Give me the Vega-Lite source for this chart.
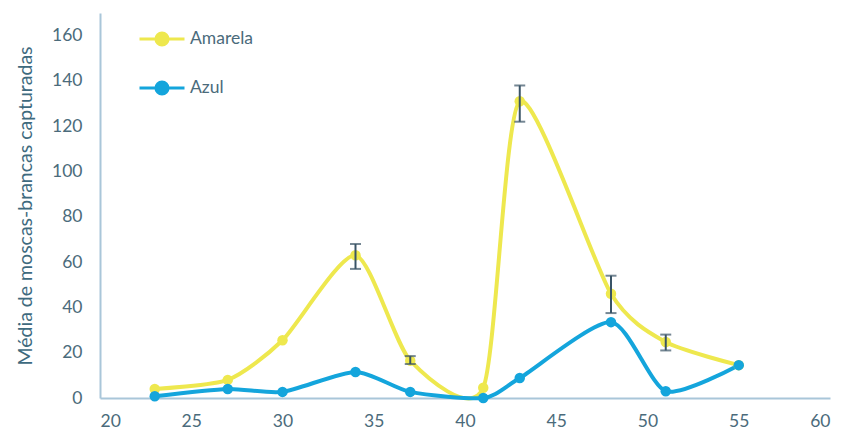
{
  "$schema": "https://vega.github.io/schema/vega-lite/v6.json",
  "autosize": "none",
  "width": 730,
  "height": 385,
  "padding": {"left": 100, "top": 13, "right": 14, "bottom": 37},
  "background": "white",
  "config": {
    "font": "Lato",
    "view": {"stroke": null},
    "axis": {"grid": false, "ticks": false, "domainColor": "#a9c6d9", "domainWidth": 2, "labelColor": "#4b6b7b", "labelFontSize": 17.5, "titleColor": "#3e6a7e", "titleFontWeight": "normal"}
  },
  "data": {
    "values": [
      {"serie": "Amarela", "x": 23, "y": 4},
      {"serie": "Amarela", "x": 27, "y": 8},
      {"serie": "Amarela", "x": 30, "y": 25.5},
      {"serie": "Amarela", "x": 34, "y": 63, "lo": 57, "hi": 68},
      {"serie": "Amarela", "x": 37, "y": 16.5, "lo": 15, "hi": 18.5},
      {"serie": "Amarela", "x": 41, "y": 4.5},
      {"serie": "Amarela", "x": 43, "y": 131, "lo": 122, "hi": 138},
      {"serie": "Amarela", "x": 48, "y": 46, "lo": 37.5, "hi": 54},
      {"serie": "Amarela", "x": 51, "y": 24.7, "lo": 21, "hi": 28},
      {"serie": "Amarela", "x": 55, "y": 14.5},
      {"serie": "Azul", "x": 23, "y": 0.8},
      {"serie": "Azul", "x": 27, "y": 4},
      {"serie": "Azul", "x": 30, "y": 2.7},
      {"serie": "Azul", "x": 34, "y": 11.5},
      {"serie": "Azul", "x": 37, "y": 2.7},
      {"serie": "Azul", "x": 41, "y": 0},
      {"serie": "Azul", "x": 43, "y": 8.8},
      {"serie": "Azul", "x": 48, "y": 33.5},
      {"serie": "Azul", "x": 51, "y": 3},
      {"serie": "Azul", "x": 55, "y": 14.5}
    ]
  },
  "encoding": {
    "x": {"field": "x", "type": "quantitative", "scale": {"domain": [20, 60], "nice": false}, "axis": {"title": null, "values": [20, 25, 30, 35, 40, 45, 50, 55, 60], "labelPadding": 14}},
    "y": {"field": "y", "type": "quantitative", "scale": {"domain": [0, 170], "nice": false}, "axis": {"title": "Média de moscas-brancas capturadas", "titleFontSize": 19.5, "values": [0, 20, 40, 60, 80, 100, 120, 140, 160], "labelPadding": 18, "titlePadding": 16}}
  },
  "layer": [
    {
      "mark": {"type": "line", "interpolate": "cardinal", "tension": 0.3, "strokeWidth": 4},
      "encoding": {
        "color": {"field": "serie", "type": "nominal", "scale": {"domain": ["Amarela", "Azul"], "range": ["#eee84e", "#14a5dc"]},
          "legend": {"title": null, "orient": "none", "legendX": 38, "legendY": 2, "symbolType": "M-1,0H-0.27A0.27,0.27 0 1,1 0.27,0H1M0.27,0A0.27,0.27 0 1,1 -0.27,0", "symbolSize": 2025, "symbolStrokeWidth": 3, "labelFontSize": 17.5, "labelColor": "#4b6b7b", "rowPadding": 12, "labelOffset": 4}}
      }
    },
    {
      "mark": {"type": "point", "filled": true, "opacity": 1, "size": 110},
      "encoding": {
        "color": {"field": "serie", "type": "nominal"}
      }
    },
    {
      "transform": [{"filter": "datum.lo != null"}],
      "mark": {"type": "errorbar", "ticks": {"size": 11}, "color": "#3a5466", "thickness": 2},
      "encoding": {
        "y": {"field": "lo", "type": "quantitative"},
        "y2": {"field": "hi"}
      }
    }
  ]
}
